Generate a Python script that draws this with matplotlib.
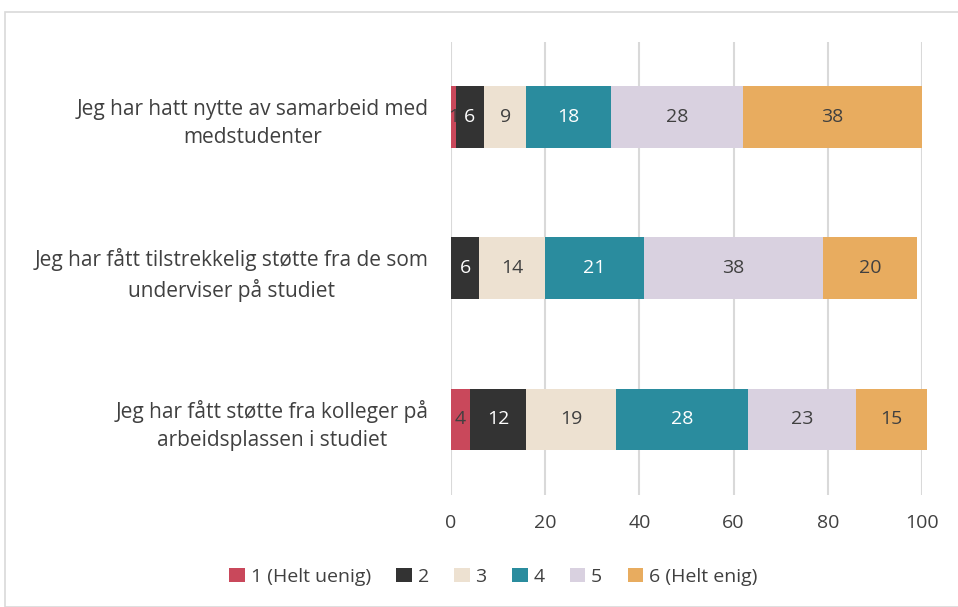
import matplotlib.pyplot as plt
from matplotlib.patches import Rectangle

# survey statements (bottom to top as drawn)
statements = [
    "Jeg har fått støtte fra kolleger på\narbeidsplassen i studiet",
    "Jeg har fått tilstrekkelig støtte fra de som\nunderviser på studiet",
    "Jeg har hatt nytte av samarbeid med\nmedstudenter",
]
levels = ["1 (Helt uenig)", "2", "3", "4", "5", "6 (Helt enig)"]

# percent per level, same order as statements
v1 = [4, 0, 1]
v2 = [12, 6, 6]
v3 = [19, 14, 9]
v4 = [28, 21, 18]
v5 = [23, 38, 28]
v6 = [15, 20, 38]
values = [v1, v2, v3, v4, v5, v6]

colors = ["#C9485B", "#333333", "#EDE1D1", "#2A8C9E", "#D9D1E0", "#E8AC5F"]
text_colors = ["#404040", "white", "#404040", "white", "#404040", "#404040"]

plt.rcParams['font.family'] = ['Open Sans', 'DejaVu Sans']

fig = plt.figure(figsize=(9.58, 6.07), dpi=100)
ax = fig.add_axes([0.4708, 0.1845, 0.4916, 0.7465])

# chart frame
fig.patches.append(Rectangle((5 / 958, 0), 1.0, 1 - 12 / 607, transform=fig.transFigure,
                             fill=False, edgecolor="#d9d9d9", linewidth=1.2, zorder=0))

ypos = range(len(statements))
left = [0, 0, 0]
for vals, col, tcol, lab in zip(values, colors, text_colors, levels):
    bars = ax.barh(ypos, vals, left=left, height=0.41, color=col, label=lab, zorder=3)
    for b, v in zip(bars, vals):
        b.set_clip_on(False)
        if v > 0:
            ax.text(b.get_x() + b.get_width() / 2, b.get_y() + b.get_height() / 2, str(v),
                    ha="center", va="center", color=tcol, fontsize=14, zorder=4)
    left = [a + b for a, b in zip(left, vals)]

ax.set_xlim(0, 100)
ax.set_ylim(-0.5, 2.5)
ax.set_xticks([0, 20, 40, 60, 80, 100])
ax.set_yticks(list(ypos))
ax.set_yticklabels(statements, fontsize=15)
for t in ax.get_yticklabels():
    t.set_multialignment("center")
    t.set_linespacing(1.45)
ax.tick_params(axis="both", length=0, labelcolor="#404040")
ax.tick_params(axis="x", labelsize=14, pad=14)
ax.tick_params(axis="y", pad=16)
ax.grid(axis="x", color="#d9d9d9", linewidth=1.5, zorder=0)
for s in ax.spines.values():
    s.set_visible(False)

fig.legend(loc="center", bbox_to_anchor=(0.515, 0.05), ncol=6, frameon=False,
           fontsize=14, handlelength=0.8, handleheight=0.8, handletextpad=0.3,
           columnspacing=1.3, labelcolor="#404040")

fig.savefig("out.png", dpi=100)
